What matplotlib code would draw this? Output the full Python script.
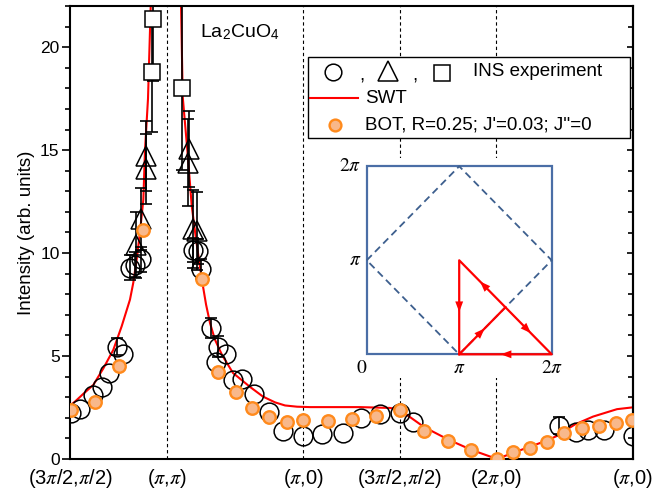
import numpy as np
import matplotlib
matplotlib.use('Agg')
import matplotlib.pyplot as plt
from matplotlib.patches import Rectangle
from matplotlib.ticker import MultipleLocator

plt.rcParams['font.family'] = ['Liberation Sans', 'DejaVu Sans']
plt.rcParams['mathtext.fontset'] = 'stix'

# x = path length along the BZ cut, in units of pi
tick_pos = [0, 0.7071, 1.7071, 2.4142, 3.1213, 4.1213]
tick_labels = ['(3$\\pi$/2,$\\pi$/2)', '($\\pi$,$\\pi$)', '($\\pi$,0)',
               '(3$\\pi$/2,$\\pi$/2)', '(2$\\pi$,0)', '($\\pi$,0)']

# INS experiment, circles (error 0 = bar hidden inside the marker)
circ_x = [0.005, 0.073, 0.166, 0.232, 0.288, 0.342, 0.386, 0.439, 0.476, 0.520,
          0.903, 0.939, 0.957, 1.030, 1.069, 1.086, 1.142, 1.195, 1.257, 1.349,
          1.457, 1.557, 1.708, 1.843, 1.996, 2.130, 2.269, 2.416, 2.513,
          3.582, 3.704, 3.794, 3.909, 4.124]
circ_y = [2.22, 2.42, 3.11, 3.49, 4.20, 5.46, 5.11, 9.30, 9.44, 9.70,
          10.15, 10.08, 9.23, 6.36, 4.73, 5.46, 5.09, 3.84, 3.88, 3.16,
          2.30, 1.38, 1.12, 1.20, 1.28, 2.01, 2.17, 2.22, 1.78,
          1.61, 1.30, 1.40, 1.41, 1.13]
circ_err = [0, 0, 0, 0, 0, 0.4, 0, 0.6, 0.6, 0.6,
            0.6, 0.6, 0.5, 0.5, 0, 0.5, 0, 0, 0, 0,
            0, 0, 0, 0, 0, 0, 0, 0, 0,
            0.42, 0, 0, 0, 0]

# INS experiment, triangles
tri_x = [0.483, 0.520, 0.556, 0.556, 0.871, 0.867, 0.900, 0.930]
tri_y = [10.40, 11.65, 14.71, 14.06, 15.04, 14.39, 11.17, 11.06]
tri_err = [1.6, 1.5, 1.7, 1.7, 1.85, 2.1, 1.9, 1.9]

# INS experiment, squares
sq_x = [0.610, 0.598, 0.818]
sq_y = [21.36, 18.80, 18.04]
sq_err = [3.0, 2.9, 4.0]

# SWT
swt_x = [0.0, 0.037, 0.095, 0.171, 0.244, 0.317, 0.378, 0.439, 0.463, 0.488,
         0.512, 0.537, 0.549, 0.571, 0.593,
         0.805, 0.813, 0.825, 0.859, 0.891, 0.922, 0.964, 0.996, 1.025, 1.061,
         1.113, 1.193, 1.318, 1.413, 1.501, 1.574, 1.662, 1.757, 2.123, 2.343,
         2.416, 2.592, 2.767, 2.936, 3.126, 3.243, 3.368, 3.492, 3.558, 3.616,
         3.697, 3.829, 4.004, 4.122]
swt_y = [2.6, 2.79, 3.15, 3.6, 4.4, 5.3, 6.44, 7.74, 8.55, 9.68,
         11.0, 12.6, 15.0, 17.5, 22.5,
         23.0, 22.0, 17.6, 15.0, 12.3, 10.7, 8.76, 7.5, 6.6, 5.8,
         5.05, 4.18, 3.5, 3.03, 2.75, 2.6, 2.54, 2.52, 2.52, 2.48,
         2.38, 1.55, 0.95, 0.45, 0.0, 0.3, 0.6, 0.9, 1.1, 1.35,
         1.68, 2.06, 2.42, 2.51]
swt_break = 15

# BOT, R=0.25; J'=0.03; J''=0
bot_x = [0.005, 0.183, 0.359, 0.537,
         0.964, 1.086, 1.213, 1.335, 1.459, 1.586, 1.708, 1.887, 2.062, 2.240,
         2.416, 2.594, 2.769, 2.936, 3.124, 3.245, 3.367, 3.494, 3.619, 3.750,
         3.875, 3.995, 4.116]
bot_y = [2.38, 2.79, 4.53, 11.11,
         8.76, 4.22, 3.23, 2.47, 2.03, 1.82, 1.90, 1.85, 1.93, 2.11,
         2.38, 1.36, 0.88, 0.44, 0.02, 0.33, 0.52, 0.84, 1.25, 1.49,
         1.62, 1.77, 1.90]

# inset: path through the zone (units of pi)
path_x = [1.5, 1.0, 1.0, 1.5, 2.0, 1.0]
path_y = [0.5, 1.0, 0.0, 0.5, 0.0, 0.0]
diamond_x = [0, 1, 2, 1, 0]
diamond_y = [1, 2, 1, 0, 1]

orange_face = '#f8b88b'
orange_edge = '#ff8a1c'
blue = '#4a6ea6'

fig = plt.figure(figsize=(6.53, 4.94), dpi=100)
ax = fig.add_axes([70/653, 1-459/494, 563/653, 453/494])

for xv in tick_pos[1:-1]:
    ax.axvline(xv, color='k', lw=0.8, ls=(0, (3, 2.5)), zorder=1)

ax.plot(swt_x[:swt_break], swt_y[:swt_break], color='red', lw=1.5, zorder=2)
ax.plot(swt_x[swt_break:], swt_y[swt_break:], color='red', lw=1.5, zorder=2)

eb = dict(fmt='none', ecolor='k', elinewidth=1.2, capsize=4.5, capthick=1.2, zorder=3)
ce = np.array(circ_err) > 0
ax.errorbar(np.array(circ_x)[ce], np.array(circ_y)[ce], yerr=np.array(circ_err)[ce], **eb)
ax.errorbar(tri_x, tri_y, yerr=tri_err, **eb)
ax.errorbar(sq_x, sq_y, yerr=sq_err, **eb)
ax.plot(circ_x, circ_y, 'o', mfc='none', mec='k', ms=13.5, mew=1.1, zorder=4)
ax.plot(tri_x, tri_y, '^', mfc='none', mec='k', ms=15, mew=1.1, zorder=4)
ax.plot(sq_x, sq_y, 's', mfc='white', mec='k', ms=12, mew=1.1, zorder=4)
ax.plot(bot_x, bot_y, 'o', mfc=orange_face, mec=orange_edge, ms=9, mew=1.7, zorder=5)

ax.set_xlim(tick_pos[0], tick_pos[-1])
ax.set_ylim(0, 22)
ax.set_xticks(tick_pos)
ax.set_xticklabels(tick_labels, fontsize=14.5)
ax.tick_params(axis='x', length=0, pad=6)
ax.yaxis.set_major_locator(MultipleLocator(5))
ax.yaxis.set_minor_locator(MultipleLocator(1))
ax.tick_params(axis='y', which='major', direction='out', length=6, width=1.2,
               labelsize=12.5, pad=1.5)
ax.tick_params(axis='y', which='minor', direction='out', length=3.5, width=1.2)
sec = ax.secondary_yaxis('right')
sec.yaxis.set_major_locator(MultipleLocator(5))
sec.yaxis.set_minor_locator(MultipleLocator(1))
sec.tick_params(which='major', direction='in', length=4.5, width=1.2, labelright=False)
sec.tick_params(which='minor', direction='in', length=3.5, width=1.2)
sec.spines['right'].set_linewidth(1.5)
for s in ax.spines.values():
    s.set_linewidth(1.5)
ax.set_ylabel('Intensity (arb. units)', fontsize=13.5, labelpad=4)

ax.text(0.231, 0.943, 'La$_\\mathregular{2}$CuO$_\\mathregular{4}$', transform=ax.transAxes,
        fontsize=14, ha='left', va='center')

# legend, drawn by hand to keep the comma-separated marker row
tr = ax.transAxes
ax.add_patch(Rectangle((0.423, 0.708), 0.572, 0.180, transform=tr, facecolor='white',
                       edgecolor='k', lw=1.0, zorder=10))
kw = dict(transform=tr, clip_on=False, zorder=11)
ax.plot([0.4676], [0.855], 'o', mfc='none', mec='k', ms=12, mew=1.1, **kw)
ax.plot([0.5654], [0.857], '^', mfc='none', mec='k', ms=14, mew=1.1, **kw)
ax.plot([0.660], [0.853], 's', mfc='none', mec='k', ms=11, mew=1.1, **kw)
ax.text(0.518, 0.845, ',', fontsize=13.5, ha='center', va='center', **kw)
ax.text(0.6128, 0.845, ',', fontsize=13.5, ha='center', va='center', **kw)
ax.text(0.7164, 0.855, 'INS experiment', fontsize=13.5, ha='left', va='center', **kw)
ax.plot([0.426, 0.512], [0.796, 0.796], color='red', lw=1.5, **kw)
ax.text(0.524, 0.796, 'SWT', fontsize=13.5, ha='left', va='center', **kw)
ax.plot([0.4707], [0.737], 'o', mfc=orange_face, mec=orange_edge, ms=8.5, mew=1.7, **kw)
ax.text(0.524, 0.737, "BOT, R=0.25; J'=0.03; J''=0", fontsize=13.5, ha='left',
        va='center', **kw)

# inset
axi = fig.add_axes([335/653, 1-378/494, 230/653, 220/494])
axi.set_facecolor('white')
axi.set_xticks([])
axi.set_yticks([])
for s in axi.spines.values():
    s.set_visible(False)
axi.set_xlim(-0.343, 2.144)
axi.set_ylim(-0.252, 2.088)
axi.add_patch(Rectangle((0, 0), 2, 2, fill=False, edgecolor=blue, lw=1.6))
axi.plot(diamond_x, diamond_y, color='#3d5f8e', lw=1.3, ls=(0, (4, 2.5)))
axi.plot(path_x, path_y, color='red', lw=1.6, zorder=3)
for i in range(len(path_x) - 1):
    x0, y0 = path_x[i], path_y[i]
    x1, y1 = path_x[i+1], path_y[i+1]
    xm, ym = (x0 + x1) / 2, (y0 + y1) / 2
    axi.annotate('', xy=(xm + (x1 - x0) * 0.05, ym + (y1 - y0) * 0.05),
                 xytext=(xm - (x1 - x0) * 0.05, ym - (y1 - y0) * 0.05),
                 arrowprops=dict(arrowstyle='-|>,head_length=0.8,head_width=0.3',
                                 color='red', lw=0, mutation_scale=9.5,
                                 shrinkA=0, shrinkB=0), zorder=4)
ifs = 14
axi.text(-0.06, 2.0, '$2\\pi$', fontsize=ifs, ha='right', va='center')
axi.text(-0.06, 1.0, '$\\pi$', fontsize=ifs, ha='right', va='center')
axi.text(-0.05, -0.06, '$0$', fontsize=ifs, ha='center', va='top')
axi.text(1.0, -0.06, '$\\pi$', fontsize=ifs, ha='center', va='top')
axi.text(2.0, -0.06, '$2\\pi$', fontsize=ifs, ha='center', va='top')

fig.savefig('out.png', dpi=100)
